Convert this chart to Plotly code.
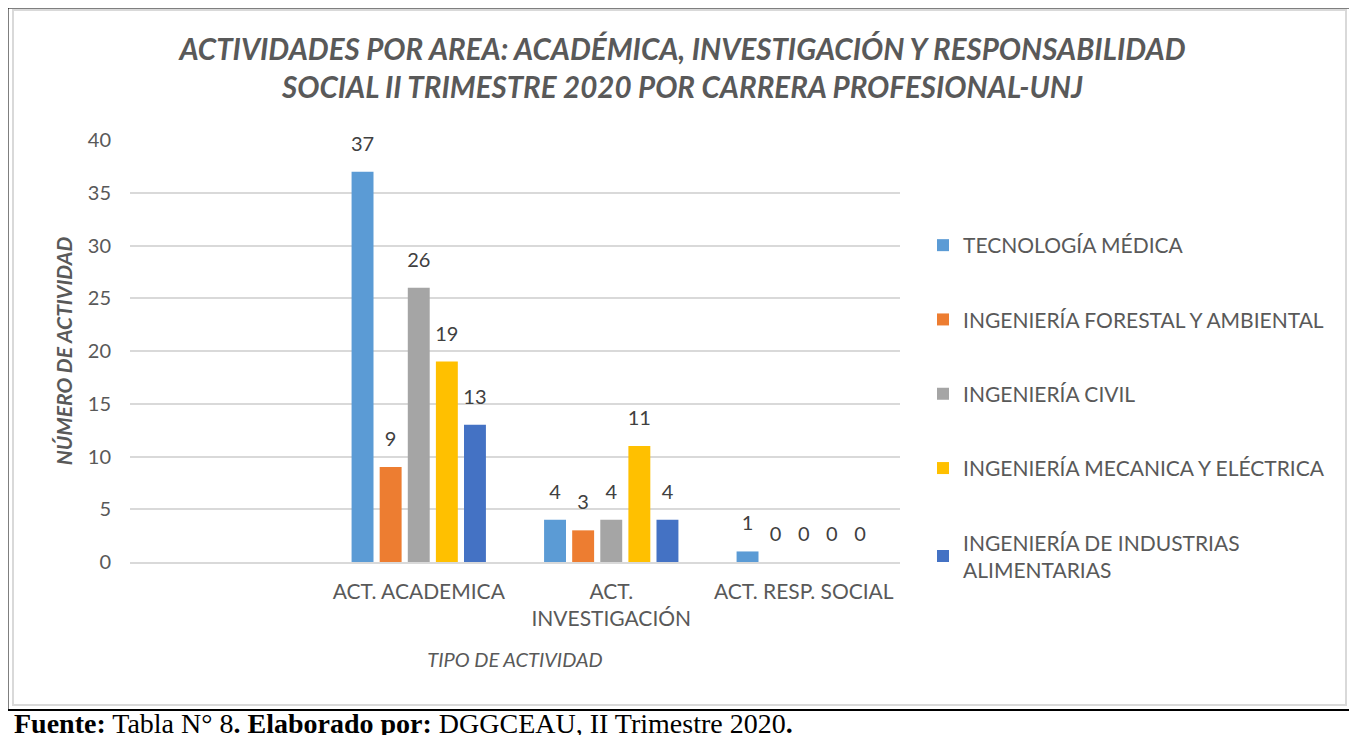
import plotly.graph_objects as go

# datos del grafico
categorias = ["", "ACT. ACADEMICA", "ACT.<br>INVESTIGACIÓN", "ACT. RESP. SOCIAL"]
carreras = ["TECNOLOGÍA MÉDICA",
            "INGENIERÍA FORESTAL Y AMBIENTAL",
            "INGENIERÍA CIVIL",
            "INGENIERÍA MECANICA Y ELÉCTRICA",
            "INGENIERÍA DE INDUSTRIAS<br>ALIMENTARIAS"]
tec_medica = [None, 37, 4, 1]
ing_forestal = [None, 9, 3, 0]
ing_civil = [None, 26, 4, 0]
ing_mecanica = [None, 19, 11, 0]
ing_industrias = [None, 13, 4, 0]
y_ticks = [0, 5, 10, 15, 20, 25, 30, 35, 40]

series = [tec_medica, ing_forestal, ing_civil, ing_mecanica, ing_industrias]
colores = ["#5B9BD5", "#ED7D31", "#A5A5A5", "#FFC000", "#4472C4"]

FONT = "Lato"
GRIS = "#595959"

# la pagina pone el grafico con 8px de margen (body), se compensa aqui
OFF = 8
W, H = 1357 - OFF, 735 - OFF
# area de trazado en pixeles de la imagen de referencia
X0, X1, Y0, Y1 = 130, 900, 140, 562
L, R, T, B = X0 - OFF, W - (X1 - OFF), Y0 - OFF, H - (Y1 - OFF)
PW, PH = X1 - X0, Y1 - Y0


def px(x):
    return (x - X0) / PW


def py(y):
    return (Y1 - y) / PH


fig = go.Figure()
for i, (nombre, vals) in enumerate(zip(carreras, series)):
    fig.add_trace(go.Bar(x=categorias, y=vals, name=nombre,
                         marker_color=colores[i], marker_line_width=0,
                         legendgroup=str(i), offsetgroup=str(i)))
# etiquetas de datos (scatter agrupado para separarlas de la barra)
for i, vals in enumerate(series):
    fig.add_trace(go.Scatter(x=categorias, y=vals, mode="markers+text",
                             offsetgroup=str(i), showlegend=False, hoverinfo="skip",
                             marker=dict(size=24, color="rgba(0,0,0,0)"),
                             text=[("" if v is None else str(v)) for v in vals],
                             textposition="top center", cliponaxis=False,
                             textfont=dict(family=FONT, size=20, color="#404040")))

fig.update_layout(
    width=W, height=H,
    margin=dict(l=L, r=R, t=T, b=B, autoexpand=False),
    paper_bgcolor="white", plot_bgcolor="white",
    barmode="group", bargap=0.27, bargroupgap=0.22,
    scattermode="group", scattergap=0.27,
    font=dict(family=FONT, color=GRIS, size=20),
    title=dict(text="<b><i>ACTIVIDADES POR AREA: ACADÉMICA, INVESTIGACIÓN Y RESPONSABILIDAD<br>"
                    "SOCIAL II TRIMESTRE 2020 POR CARRERA PROFESIONAL-UNJ</i></b>",
               x=0.5, xanchor="center", y=1 - (60 - OFF) / H, yanchor="middle",
               font=dict(family=FONT, size=29.5, color=GRIS)),
    legend=dict(x=px(923), xanchor="left", y=py(225), yanchor="top",
                tracegroupgap=44, itemwidth=30,
                font=dict(family=FONT, size=21, color=GRIS), itemclick=False),
)

fig.update_xaxes(showgrid=False, showline=True, linecolor="#D9D9D9", linewidth=1.5,
                 ticks="", ticklabelstandoff=10, tickfont=dict(size=21, color=GRIS),
                 title=dict(text="<i>TIPO DE ACTIVIDAD</i>", standoff=24,
                            font=dict(size=20, color=GRIS)))
fig.update_yaxes(range=[0, 40], tickvals=y_ticks, showgrid=True, gridcolor="#D9D9D9",
                 gridwidth=1.5, zeroline=False, ticks="", ticklabelstandoff=18,
                 tickfont=dict(size=20, color=GRIS),
                 title=dict(text="<b><i>NÚMERO DE ACTIVIDAD</i></b>", standoff=9,
                            font=dict(size=21, color=GRIS)))

# marco del documento
fig.add_shape(type="rect", xref="paper", yref="paper", x0=px(13), x1=px(1346),
              y0=py(705), y1=py(10), line=dict(color="#D9D9D9", width=2))
fig.add_shape(type="line", xref="paper", yref="paper", x0=px(0), x1=px(1357),
              y0=py(7.5), y1=py(7.5), line=dict(color="black", width=2))
fig.add_shape(type="line", xref="paper", yref="paper", x0=px(7.5), x1=px(7.5),
              y0=py(710), y1=py(0), line=dict(color="black", width=2))
fig.add_shape(type="line", xref="paper", yref="paper", x0=px(0), x1=px(1357),
              y0=py(710), y1=py(710), line=dict(color="black", width=2))

fig.add_annotation(text="<b>Fuente:</b> Tabla N° 8<b>. Elaborado por:</b> DGGCEAU, II Trimestre 2020<b>.</b>",
                   xref="paper", yref="paper", x=px(12), y=py(723),
                   xanchor="left", yanchor="middle", showarrow=False,
                   font=dict(family="Liberation Serif", size=28, color="black"))

fig.write_html("out.html")
